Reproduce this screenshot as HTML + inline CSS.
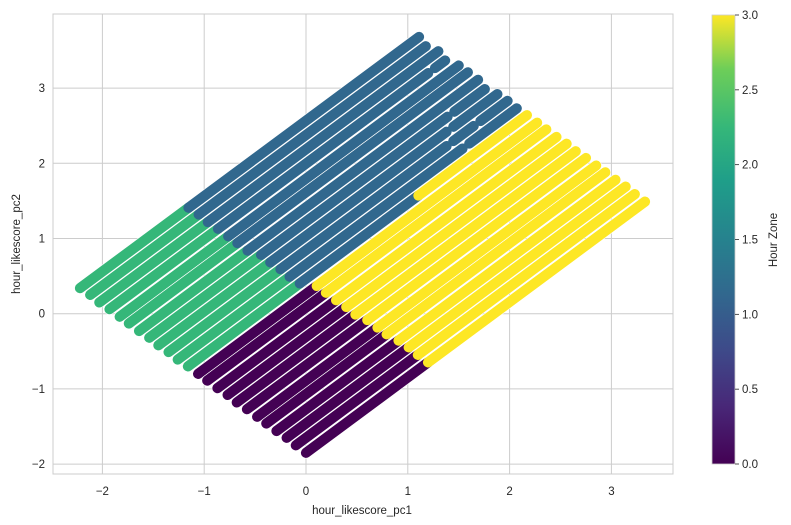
<!DOCTYPE html>
<html><head><meta charset="utf-8"><style>
body{margin:0;background:#fff}
svg{display:block;font-family:"Liberation Sans",Arial,sans-serif}
</style></head><body>
<svg id="chart" width="791" height="525" viewBox="0 0 791 525">
<defs><linearGradient id="vir" x1="0" y1="1" x2="0" y2="0">
<stop offset="0" stop-color="#440154"/><stop offset="0.13" stop-color="#482878"/><stop offset="0.25" stop-color="#3e4989"/><stop offset="0.38" stop-color="#31688e"/><stop offset="0.5" stop-color="#26828e"/><stop offset="0.63" stop-color="#1f9e89"/><stop offset="0.75" stop-color="#35b779"/><stop offset="0.88" stop-color="#6ece58"/><stop offset="1" stop-color="#fde725"/>
</linearGradient></defs>
<g id="grid"></g>
<g id="marks"></g>
<g id="axes"></g>
<text x="362" y="514" font-size="11.5" fill="#262626" text-anchor="middle">hour_likescore_pc1</text>
<text transform="translate(20,244) rotate(-90)" font-size="11.5" fill="#262626" text-anchor="middle">hour_likescore_pc2</text>
<rect x="712" y="15" width="23" height="449" fill="url(#vir)" stroke="#cccccc" stroke-width="0.8"/>
<g id="cbticks"></g>
<text transform="translate(777,240) rotate(-90)" font-size="11.5" fill="#262626" text-anchor="middle">Hour Zone</text>
</svg>
<script>
const xTicks=[-2,-1,0,1,2,3];
const yTicks=[-2,-1,0,1,2,3];
const cbTicks=["0.0","0.5","1.0","1.5","2.0","2.5","3.0"];
const startX=[-2.22,-2.12,-2.03,-1.93,-1.83,-1.74,-1.64,-1.54,-1.45,-1.35,-1.26,-1.16,-1.06,-0.97,-0.87,-0.77,-0.68,-0.58,-0.48,-0.39,-0.29,-0.19,-0.10,0.00];
const startY=[0.34,0.25,0.15,0.06,-0.04,-0.13,-0.23,-0.32,-0.42,-0.51,-0.61,-0.70,-0.80,-0.89,-0.99,-1.08,-1.18,-1.27,-1.37,-1.46,-1.56,-1.65,-1.75,-1.85];
const spanX=[3.33];
const spanY=[3.34];
const segs=[
[[0,0.32,2],[0.32,1,1]],
[[0,0.32,2],[0.32,0.99,1]],
[[0,0.32,2],[0.32,1,1]],
[[0,0.32,2],[0.32,0.94,1],[0.96,0.99,1]],
[[0,0.32,2],[0.32,1,1]],
[[0,0.32,2],[0.32,1,1]],
[[0,0.32,2],[0.32,1,1]],
[[0,0.33,2],[0.33,0.88,1],[0.9,0.99,1]],
[[0,0.33,2],[0.33,0.85,1],[0.87,1,1]],
[[0,0.33,2],[0.33,0.82,1],[0.84,0.9,1],[0.92,1,1]],
[[0,0.33,2],[0.33,0.84,1],[0.86,1,1]],
[[0,0.33,2],[0.33,0.68,1],[0.68,1,3]],
[[0,0.35,0],[0.35,1,3]],
[[0,0.35,0],[0.35,1,3]],
[[0,0.35,0],[0.35,1,3]],
[[0,0.35,0],[0.35,1,3]],
[[0,0.35,0],[0.35,1,3]],
[[0,0.355,0],[0.355,1,3]],
[[0,0.355,0],[0.355,1,3]],
[[0,0.355,0],[0.355,1,3]],
[[0,0.36,0],[0.36,1,3]],
[[0,0.36,0],[0.36,1,3]],
[[0,0.36,0],[0.36,1,3]],
[[0,0.36,0],[0.36,1,3]]
];
const zoneColors=["#440154","#31688e","#35b779","#fde725"];
const L=53,R=673,T=14,B=474;
const sx=v=>306+v*101.8;
const sy=v=>313.7-v*75.2;
const NS="http://www.w3.org/2000/svg";
function mk(tag,attrs,parent){const e=document.createElementNS(NS,tag);for(const k in attrs)e.setAttribute(k,attrs[k]);parent.appendChild(e);return e;}
const grid=document.getElementById('grid'),axes=document.getElementById('axes'),marks=document.getElementById('marks'),cb=document.getElementById('cbticks');
xTicks.forEach(t=>{const x=sx(t);
const l=mk('line',{x1:x,x2:x,y1:T,y2:B,stroke:'#cccccc','stroke-width':1},grid);


const tx=mk('text',{x:x,y:495,'font-size':11.5,fill:'#262626','text-anchor':'middle'},axes);tx.textContent=(t<0?'\u2212'+(-t):t);

});
yTicks.forEach(t=>{const y=sy(t);
const l=mk('line',{x1:L,x2:R,y1:y,y2:y,stroke:'#cccccc','stroke-width':1},grid);


const tx=mk('text',{x:45,y:y+4,'font-size':11.5,fill:'#262626','text-anchor':'end'},axes);tx.textContent=(t<0?'\u2212'+(-t):t);

});
const fr=mk('rect',{x:L,y:T,width:R-L,height:B-T,fill:'none',stroke:'#cccccc','stroke-width':1},axes);


startX.forEach((x0,j)=>{
 const y0=startY[j];
 const g=mk('g',{},marks);
 
 
 segs[j].forEach(s=>{
  const a=mk('line',{x1:sx(x0+spanX[0]*s[0]),y1:sy(y0+spanY[0]*s[0]),x2:sx(x0+spanX[0]*s[1]),y2:sy(y0+spanY[0]*s[1]),stroke:'#ffffff','stroke-width':11.4,'stroke-linecap':'round'},g);
  
  
 });
 segs[j].forEach(s=>{
  const a=mk('line',{x1:sx(x0+spanX[0]*s[0]),y1:sy(y0+spanY[0]*s[0]),x2:sx(x0+spanX[0]*s[1]),y2:sy(y0+spanY[0]*s[1]),stroke:zoneColors[s[2]],'stroke-width':10.2,'stroke-linecap':'round'},g);
  
  
 });
});
cbTicks.forEach((t,i)=>{const y=464-i*(449/6);
const l=mk('line',{x1:735,x2:739,y1:y,y2:y,stroke:'#262626','stroke-width':0.8},cb);


const tx=mk('text',{x:742,y:y+4,'font-size':11.5,fill:'#262626'},cb);tx.textContent=t;

});
</script>
</body></html>
